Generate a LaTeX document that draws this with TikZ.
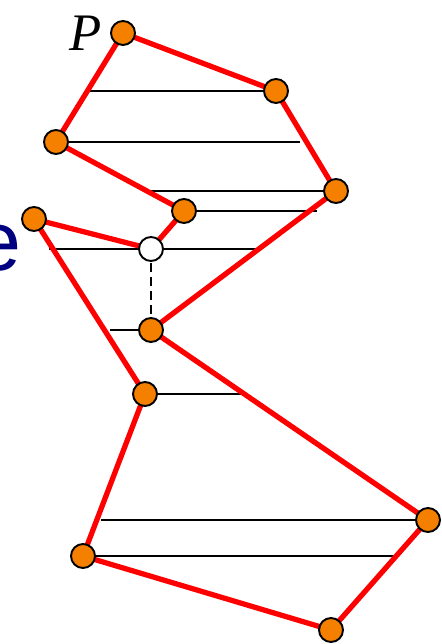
\documentclass[tikz,border=0pt]{standalone}
\usepackage{fontspec}
\setmainfont{Liberation Serif}
\setsansfont{Liberation Sans}
\definecolor{vorange}{HTML}{F58000}
\definecolor{navy}{HTML}{000080}
\begin{document}
\begin{tikzpicture}[x=0.02cm,y=-0.02cm,
  vert/.style={circle,draw=black,line width=1.1pt,fill=vorange,minimum size=0.48cm,inner sep=0pt},
  hollow/.style={vert,fill=white},
  chain/.style={draw=red,line width=3pt,line join=round},
  rung/.style={draw=black,line width=1.1pt},
  link/.style={draw=black,line width=1.1pt,dash pattern=on 5pt off 3pt}]
\useasboundingbox (0,0) rectangle (441,644);
\clip (0,0) rectangle (441,644);
% vertex positions
\coordinate (p) at (123,33);
\coordinate (a) at (276,91);
\coordinate (b) at (56,142);
\coordinate (c) at (336,191);
\coordinate (d) at (184,211);
\coordinate (e) at (151,249);
\coordinate (f) at (34,219);
\coordinate (g) at (151,330);
\coordinate (h) at (145,394);
\coordinate (i) at (428,520);
\coordinate (j) at (83,556);
\coordinate (k) at (331,630);
% free ends of rungs
\coordinate (r1) at (90,91);
\coordinate (r2) at (300,142);
\coordinate (r3) at (147,191);
\coordinate (r4) at (317,211);
\coordinate (r5a) at (49,249);
\coordinate (r5b) at (260,249);
\coordinate (r6) at (110,330);
\coordinate (r7) at (243,394);
\coordinate (r8) at (101,520);
\coordinate (r9) at (396,556);
% text
\node[anchor=base west,inner sep=0pt,text=navy,font=\sffamily\fontsize{48}{48}\selectfont] (elabel) at (-26,271) {e};
\node[anchor=base,inner sep=0pt,font=\itshape\fontsize{30}{30}\selectfont] (plabel) at (86,51) {P};
% rungs
\draw[rung] (r1) -- (a);
\draw[rung] (b) -- (r2);
\draw[rung] (r3) -- (c);
\draw[rung] (d) -- (r4);
\draw[rung] (r5a) -- (r5b);
\draw[rung] (r6) -- (g);
\draw[rung] (h) -- (r7);
\draw[rung] (r8) -- (i);
\draw[rung] (j) -- (r9);
% polygon
\draw[chain] (p) -- (a) -- (c) -- (g) -- (i) -- (k) -- (j) -- (h) -- (f) -- (e) -- (d) -- (b) -- cycle;
% dashed link
\draw[link] (e) -- (g);
% vertices
\foreach \n in {p,a,b,c,d,f,g,h,i,j,k} \node[vert] (n\n) at (\n) {};
\node[hollow] (ne) at (e) {};
\end{tikzpicture}
\end{document}
